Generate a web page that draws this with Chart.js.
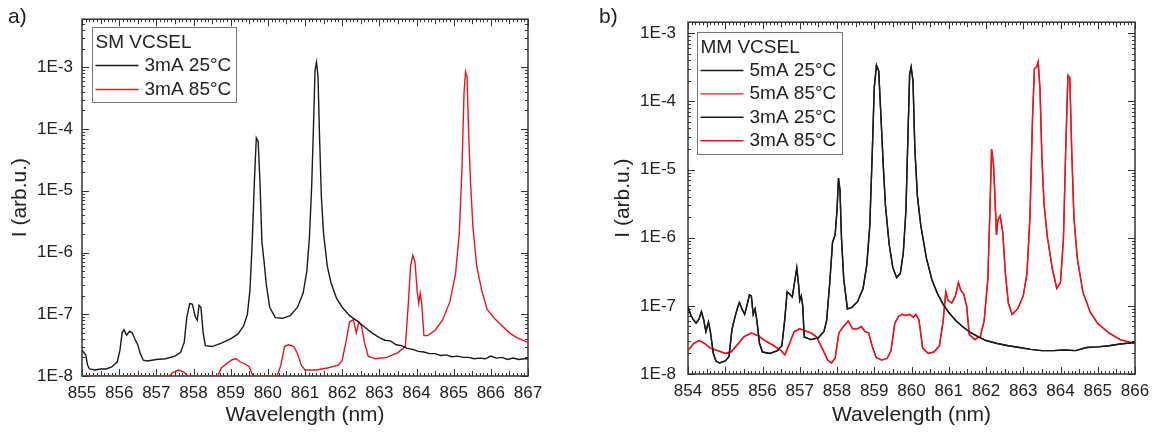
<!DOCTYPE html>
<html>
<head>
<meta charset="utf-8">
<script src="https://cdn.jsdelivr.net/npm/chart.js@4.4.1/dist/chart.umd.min.js"></script>
<style>
  body { margin: 0; background: #fff; width: 1157px; height: 433px; position: relative; overflow: hidden;
         font-family: "Liberation Sans", Arial, sans-serif; }
  .panel { position: absolute; top: 0; }
  .tag { position: absolute; top: 4px; font-size: 21px; color: #222; }
</style>
</head>
<body>
<div class="panel" style="left:0;width:578px;height:433px"><canvas id="chartA" width="578" height="433"></canvas></div>
<div class="panel" style="left:578px;width:579px;height:433px"><canvas id="chartB" width="579" height="433"></canvas></div>
<div class="tag" style="left:8px">a)</div>
<div class="tag" style="left:599px">b)</div>
<script>
// ---- data ----
var xTitle = 'Wavelength (nm)';
var yTitle = 'I (arb.u.)';
var yTickValues = [1e-8, 1e-7, 1e-6, 1e-5, 1e-4, 1e-3];
var yTickLabels = ['1E-8', '1E-7', '1E-6', '1E-5', '1E-4', '1E-3'];
var xTicksA = [855, 856, 857, 858, 859, 860, 861, 862, 863, 864, 865, 866, 867];
var xTicksB = [854, 855, 856, 857, 858, 859, 860, 861, 862, 863, 864, 865, 866];

// a) SM VCSEL
var smTitle = 'SM VCSEL';
var smLabels = ['3mA 25°C', '3mA 85°C'];
var sm25nm = [855.0, 855.05, 855.1, 855.15, 855.2, 855.35, 855.5, 855.65, 855.8, 855.95, 856.02, 856.08, 856.13, 856.2,
  856.28, 856.35, 856.42, 856.5, 856.57, 856.65, 856.75, 857.0, 857.25, 857.5, 857.65, 857.75, 857.82, 857.9, 857.97,
  858.05, 858.1, 858.15, 858.2, 858.26, 858.32, 858.5, 858.75, 859.0, 859.2, 859.35, 859.45, 859.52, 859.58, 859.64,
  859.69, 859.74, 859.79, 859.84, 859.9, 859.96, 860.05, 860.2, 860.4, 860.6, 860.8, 860.95, 861.05, 861.12, 861.18,
  861.23, 861.27, 861.31, 861.35, 861.39, 861.44, 861.5, 861.6, 861.7, 861.85, 862.0, 862.2, 862.4, 862.6, 862.8,
  863.0, 863.15, 863.3, 863.45, 863.6, 863.75, 863.9, 864.05, 864.2, 864.35, 864.5, 864.65, 864.8, 864.95, 865.1,
  865.25, 865.4, 865.55, 865.7, 865.85, 866.0, 866.15, 866.3, 866.45, 866.6, 866.75, 866.9, 867.0];
var sm25I = [2.6e-8, 2.4e-8, 2.2e-8, 1.5e-8, 1.3e-8, 1.25e-8, 1.3e-8, 1.3e-8, 1.4e-8, 1.7e-8, 2.6e-8, 5.0e-8, 5.6e-8, 4.6e-8,
  5.3e-8, 5.0e-8, 4.0e-8, 3.2e-8, 2.3e-8, 1.8e-8, 1.75e-8, 1.85e-8, 1.9e-8, 2.1e-8, 2.4e-8, 3.5e-8, 9e-8, 1.5e-7, 1.45e-7,
  9e-8, 8e-8, 1.4e-7, 1.3e-7, 5e-8, 3.1e-8, 3.0e-8, 3.4e-8, 4.0e-8, 4.8e-8, 6.5e-8, 1.0e-7, 2.5e-7, 1.5e-6, 1.5e-5,
  7.2e-5, 6.3e-5, 1.3e-5, 1.5e-6, 7e-7, 3e-7, 1.3e-7, 8.8e-8, 8.6e-8, 9.5e-8, 1.3e-7, 2.2e-7, 5e-7, 1.8e-6, 1.2e-5,
  1.2e-4, 9e-4, 1.2e-3, 7e-4, 8e-5, 8e-6, 2e-6, 6e-7, 3.2e-7, 1.8e-7, 1.3e-7, 9.5e-8, 7.8e-8, 6.2e-8, 5e-8,
  4.2e-8, 3.8e-8, 3.7e-8, 3.2e-8, 3.1e-8, 2.8e-8, 2.7e-8, 2.5e-8, 2.45e-8, 2.3e-8, 2.3e-8, 2.15e-8, 2.2e-8, 2.05e-8, 2.1e-8,
  2.0e-8, 2.0e-8, 1.9e-8, 1.95e-8, 1.9e-8, 2.1e-8, 1.95e-8, 2.0e-8, 1.85e-8, 1.95e-8, 1.85e-8, 1.9e-8, 1.9e-8];
var sm85nm = [855.0, 857.35, 857.45, 857.6, 857.75, 857.85, 858.65, 858.75, 858.9, 859.05, 859.15, 859.25, 859.4, 859.5,
  859.6, 860.25, 860.35, 860.45, 860.55, 860.7, 860.8, 860.9, 861.0, 861.3, 861.6, 861.9, 862.0, 862.1, 862.2, 862.3,
  862.38, 862.45, 862.52, 862.6, 862.7, 862.9, 863.2, 863.5, 863.7, 863.78, 863.84, 863.9, 863.96, 864.02, 864.06, 864.1,
  864.14, 864.2, 864.3, 864.5, 864.7, 864.9, 865.05, 865.15, 865.22, 865.28, 865.32, 865.36, 865.4, 865.45, 865.52,
  865.62, 865.75, 865.9, 866.1, 866.3, 866.5, 866.7, 866.85, 867.0];
var sm85I = [1e-8, 1e-8, 1.15e-8, 1.25e-8, 1.15e-8, 1e-8, 1e-8, 1.35e-8, 1.6e-8, 1.85e-8, 1.9e-8, 1.7e-8, 1.55e-8, 1.4e-8,
  1e-8, 1e-8, 1.5e-8, 3.0e-8, 3.2e-8, 3.0e-8, 2.3e-8, 1.5e-8, 1.25e-8, 1.25e-8, 1.35e-8, 1.5e-8, 1.8e-8, 3.5e-8, 7.5e-8, 8.2e-8,
  5e-8, 7.5e-8, 6.5e-8, 3.5e-8, 2.1e-8, 1.9e-8, 2.0e-8, 2.4e-8, 3.0e-8, 1.5e-7, 6e-7, 9e-7, 7e-7, 2.3e-7, 1.5e-7, 2.2e-7,
  1.5e-7, 4.5e-8, 4.5e-8, 5.5e-8, 8e-8, 1.6e-7, 4.5e-7, 2e-6, 2e-5, 4e-4, 8.5e-4, 7e-4, 1e-4, 1.5e-5, 2.5e-6,
  6e-7, 2.5e-7, 1.2e-7, 8.5e-8, 6.5e-8, 5e-8, 4.2e-8, 3.8e-8, 3.5e-8];

// b) MM VCSEL
var mmTitle = 'MM VCSEL';
var mmLabels = ['5mA 25°C', '5mA 85°C', '3mA 25°C', '3mA 85°C'];
var mm25nm = [854.0, 854.08, 854.15, 854.22, 854.3, 854.36, 854.42, 854.48, 854.55, 854.6, 854.68, 854.75, 854.85, 855.0,
  855.1, 855.18, 855.25, 855.32, 855.38, 855.45, 855.52, 855.58, 855.65, 855.7, 855.75, 855.8, 855.85, 855.92, 856.0,
  856.2, 856.4, 856.52, 856.6, 856.66, 856.72, 856.8, 856.86, 856.92, 856.97, 857.0, 857.04, 857.08, 857.12, 857.3,
  857.5, 857.65, 857.72, 857.8, 857.88, 857.95, 858.0, 858.04, 858.08, 858.12, 858.18, 858.28, 858.4, 858.55, 858.7,
  858.8, 858.88, 858.95, 859.0, 859.06, 859.12, 859.18, 859.24, 859.3, 859.4, 859.5, 859.6, 859.7, 859.78, 859.85,
  859.9, 859.95, 859.99, 860.04, 860.09, 860.16, 860.25, 860.4, 860.55, 860.7, 860.85, 861.0, 861.2, 861.4, 861.6,
  861.8, 862.0, 862.3, 862.6, 862.9, 863.2, 863.5, 863.8, 864.1, 864.4, 864.7, 865.0, 865.3, 865.6, 866.0];
var mm25I = [9.5e-8, 7.2e-8, 6.2e-8, 5.6e-8, 6.5e-8, 8.2e-8, 6.3e-8, 4.2e-8, 5.8e-8, 4.2e-8, 2.0e-8, 1.55e-8, 1.45e-8, 1.55e-8,
  1.8e-8, 4.5e-8, 6.5e-8, 9e-8, 1.12e-7, 9e-8, 7.5e-8, 1.0e-7, 1.45e-7, 1.4e-7, 7.5e-8, 9.0e-8, 6e-8, 2.8e-8, 2.1e-8,
  2.0e-8, 2.2e-8, 2.6e-8, 6.5e-8, 1.6e-7, 1.5e-7, 1.35e-7, 2.2e-7, 3.6e-7, 2.0e-7, 1.2e-7, 1.4e-7, 1.0e-7, 3.5e-8, 3.2e-8,
  3.4e-8, 4.2e-8, 6e-8, 2e-7, 8.5e-7, 1.1e-6, 2.5e-6, 7.5e-6, 5e-6, 1e-6, 2.5e-7, 9e-8, 9.5e-8, 1.15e-7, 1.8e-7,
  4e-7, 1.5e-6, 2e-5, 1.6e-4, 3.4e-4, 2.8e-4, 6e-5, 1.2e-5, 3e-6, 8e-7, 3.6e-7, 2.6e-7, 3.0e-7, 6e-7, 2.5e-6,
  2.5e-5, 2.5e-4, 3.2e-4, 2e-4, 2e-5, 4e-6, 1.5e-6, 5e-7, 2.4e-7, 1.5e-7, 1.05e-7, 8e-8, 6e-8, 4.8e-8, 4e-8,
  3.5e-8, 3.1e-8, 2.8e-8, 2.6e-8, 2.45e-8, 2.3e-8, 2.2e-8, 2.2e-8, 2.25e-8, 2.2e-8, 2.45e-8, 2.5e-8, 2.6e-8, 2.75e-8, 2.9e-8];
var mm85nm = [854.0, 854.15, 854.3, 854.45, 854.6, 854.8, 855.0, 855.15, 855.3, 855.5, 855.7, 855.9, 856.1, 856.3, 856.5,
  856.6, 856.7, 856.85, 857.0, 857.15, 857.3, 857.45, 857.6, 857.75, 857.85, 857.95, 858.05, 858.15, 858.3, 858.42,
  858.55, 858.65, 858.75, 858.85, 858.95, 859.05, 859.2, 859.35, 859.45, 859.55, 859.65, 859.75, 859.85, 859.95, 860.05,
  860.12, 860.2, 860.3, 860.45, 860.6, 860.75, 860.85, 860.92, 860.98, 861.08, 861.18, 861.26, 861.32, 861.4, 861.48,
  861.55, 861.7, 861.85, 861.95, 862.05, 862.1, 862.15, 862.2, 862.24, 862.28, 862.32, 862.38, 862.45, 862.52, 862.6,
  862.7, 862.85, 863.0, 863.1, 863.18, 863.25, 863.3, 863.36, 863.4, 863.45, 863.5, 863.56, 863.65, 863.78, 863.9,
  864.0, 864.08, 864.14, 864.2, 864.25, 864.3, 864.36, 864.45, 864.6, 864.8, 865.0, 865.3, 865.6, 866.0];
var mm85I = [2.2e-8, 2.8e-8, 3.1e-8, 2.8e-8, 2.4e-8, 2.2e-8, 2.0e-8, 2.1e-8, 2.6e-8, 3.5e-8, 4.0e-8, 3.6e-8, 3.0e-8, 2.6e-8, 2.2e-8,
  1.9e-8, 2.6e-8, 4.2e-8, 4.6e-8, 4.3e-8, 4.0e-8, 3.5e-8, 2.4e-8, 1.6e-8, 1.45e-8, 1.7e-8, 4.0e-8, 4.8e-8, 6.0e-8, 4.6e-8,
  4.6e-8, 5.0e-8, 4.2e-8, 4.0e-8, 2.5e-8, 1.75e-8, 1.6e-8, 1.7e-8, 2.2e-8, 5.5e-8, 7.0e-8, 7.5e-8, 7.2e-8, 7.5e-8, 6.8e-8,
  7.5e-8, 6.2e-8, 2.4e-8, 2.0e-8, 2.1e-8, 2.6e-8, 6e-8, 1.6e-7, 1.2e-7, 1.1e-7, 1.4e-7, 2.2e-7, 1.7e-7, 1.5e-7, 1.0e-7,
  3.8e-8, 3.2e-8, 3.6e-8, 6e-8, 2.5e-7, 2e-6, 2e-5, 1.2e-5, 4e-6, 1.1e-6, 1.8e-6, 2.1e-6, 1.2e-6, 3e-7, 1.1e-7,
  7.5e-8, 9e-8, 1.4e-7, 3e-7, 2e-6, 6e-5, 3e-4, 3.2e-4, 3.8e-4, 1.5e-4, 1.5e-5, 3e-6, 1e-6, 3.5e-7, 1.8e-7,
  2.2e-7, 1e-6, 2e-5, 2.4e-4, 2.2e-4, 2e-5, 2e-6, 5e-7, 1.6e-7, 8e-8, 5.5e-8, 4e-8, 3.2e-8, 2.8e-8];

// ---- drawing ----
var fontFam = '"Liberation Sans", Arial, sans-serif';
var black = '#1a1a1a';
var red = '#e8161c';
Chart.defaults.font.family = fontFam;
Chart.defaults.color = '#222';

function pts(nm, val) {
  return nm.map(function (x, i) { return { x: x, y: val[i] }; });
}

// Origin-style box with inward ticks on all four sides, drawn under the curves
var frameTicks = {
  id: 'frameTicks',
  beforeDatasetsDraw: function (chart) {
    var ctx = chart.ctx, a = chart.chartArea, x = chart.scales.x, y = chart.scales.y;
    ctx.save();
    ctx.strokeStyle = '#333';
    ctx.lineWidth = 1;
    ctx.beginPath();
    for (var k = Math.round(x.min * 10); k <= Math.round(x.max * 10); k++) {
      var px = Math.round(x.getPixelForValue(k / 10)) + 0.5;
      var len = k % 10 === 0 ? 7 : (k % 5 === 0 ? 5 : 3);
      ctx.moveTo(px, a.bottom); ctx.lineTo(px, a.bottom - len);
      ctx.moveTo(px, a.top); ctx.lineTo(px, a.top + len);
    }
    for (var e = -8; e <= -3; e++) {
      for (var m = 1; m <= 9; m++) {
        var v = m * Math.pow(10, e);
        if (v > y.max) break;
        var py = Math.round(y.getPixelForValue(v)) + 0.5;
        var l = m === 1 ? 7 : 3;
        ctx.moveTo(a.left, py); ctx.lineTo(a.left + l, py);
        ctx.moveTo(a.right, py); ctx.lineTo(a.right - l, py);
      }
    }
    ctx.stroke();
    ctx.lineWidth = 1.5;
    ctx.strokeRect(a.left, a.top, a.right - a.left, a.bottom - a.top);
    ctx.restore();
  }
};

function boxLegend(title, box) {
  return {
    id: 'boxLegend',
    afterDraw: function (chart) {
      var ctx = chart.ctx, a = chart.chartArea;
      var L = Math.round(a.left + box.dx) + 0.5, T = Math.round(a.top + box.dy) + 0.5;
      ctx.save();
      ctx.fillStyle = '#fff';
      ctx.fillRect(L, T, box.w, box.h);
      ctx.strokeStyle = '#777';
      ctx.lineWidth = 1;
      ctx.strokeRect(L, T, box.w, box.h);
      ctx.font = '19px ' + fontFam;
      ctx.textBaseline = 'middle';
      ctx.fillStyle = '#222';
      ctx.fillText(title, L + 3, T + 15);
      chart.data.datasets.forEach(function (d, i) {
        var yy = T + 38 + i * box.step;
        ctx.strokeStyle = d.borderColor;
        ctx.lineWidth = 1.4;
        ctx.beginPath(); ctx.moveTo(L + 3, yy); ctx.lineTo(L + 46, yy); ctx.stroke();
        ctx.fillStyle = '#222';
        ctx.fillText(d.label, L + 52, yy);
      });
      ctx.restore();
    }
  };
}

function makePanel(id, o) {
  return new Chart(document.getElementById(id), {
    type: 'line',
    data: {
      datasets: o.series.map(function (s) {
        return { label: s.label, data: pts(s.nm, s.val), borderColor: s.color, backgroundColor: s.color,
                 borderWidth: 1.4, pointRadius: 0, tension: 0 };
      })
    },
    options: {
      responsive: false,
      animation: false,
      layout: { padding: { left: 0, right: o.padRight, top: 17, bottom: 0 } },
      plugins: { legend: { display: false }, tooltip: { enabled: false } },
      scales: {
        x: {
          type: 'linear', min: o.xTicks[0], max: o.xTicks[o.xTicks.length - 1],
          afterBuildTicks: function (s) { s.ticks = o.xTicks.map(function (v) { return { value: v }; }); },
          ticks: { font: { size: 17 }, padding: 7, maxRotation: 0, autoSkip: false,
                   callback: function (v) { return String(v); } },
          grid: { display: false, drawTicks: false },
          border: { display: false },
          title: { display: true, text: xTitle, font: { size: 21 }, padding: { top: 0, bottom: 5 } },
          afterFit: function (s) { s.height = o.xHeight; }
        },
        y: {
          type: 'logarithmic', min: 1e-8, max: o.yMax,
          afterBuildTicks: function (s) { s.ticks = yTickValues.map(function (v) { return { value: v }; }); },
          ticks: { font: { size: 17 }, padding: o.yTickPad, autoSkip: false,
                   callback: function (v, i) { return yTickLabels[i]; } },
          grid: { display: false, drawTicks: false },
          border: { display: false },
          title: { display: true, text: yTitle, font: { size: 21 }, padding: { top: o.yTitlePad, bottom: 0 } },
          afterFit: function (s) { s.width = o.yWidth; }
        }
      }
    },
    plugins: [frameTicks, boxLegend(o.title, o.box)]
  });
}

makePanel('chartA', {
  title: smTitle, xTicks: xTicksA, yMax: 6e-3,
  padRight: 50, yWidth: 82, xHeight: 57, yTickPad: 9, yTitlePad: 8,
  box: { dx: 10, dy: 8, w: 144, h: 75, step: 24 },
  series: [
    { label: smLabels[0], nm: sm25nm, val: sm25I, color: black },
    { label: smLabels[1], nm: sm85nm, val: sm85I, color: red }
  ]
});

makePanel('chartB', {
  title: mmTitle, xTicks: xTicksB, yMax: 1.45e-3,
  padRight: 22, yWidth: 110, xHeight: 59, yTickPad: 12, yTitlePad: 33,
  box: { dx: 9, dy: 10, w: 145, h: 122, step: 23.4 },
  series: [
    { label: mmLabels[0], nm: mm25nm, val: mm25I, color: black },
    { label: mmLabels[1], nm: mm85nm, val: mm85I, color: red },
    { label: mmLabels[2], nm: mm25nm, val: mm25I, color: black },
    { label: mmLabels[3], nm: mm85nm, val: mm85I, color: red }
  ]
});
</script>
</body>
</html>
